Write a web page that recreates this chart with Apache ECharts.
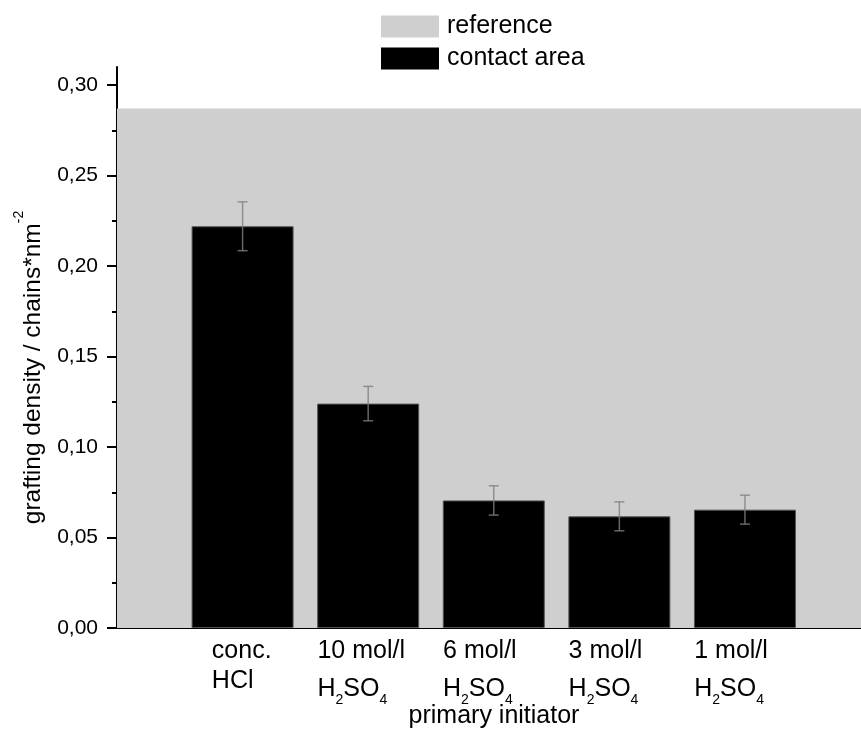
<!DOCTYPE html>
<html>
<head>
<meta charset="utf-8">
<script src="https://cdn.jsdelivr.net/npm/echarts@6/dist/echarts.min.js"></script>
<style>
  html, body { margin: 0; padding: 0; background: #fff; }
  #chart { width: 861px; height: 738px; }
</style>
</head>
<body>
<div id="chart"></div>
<script>
// ---- data ----
const labelLine1 = ['conc.', '10 mol/l', '6 mol/l', '3 mol/l', '1 mol/l'];
const labelLine2 = ['HCl', 'H2SO4', 'H2SO4', 'H2SO4', 'H2SO4'];
const positions = [1, 2, 3, 4, 5];
const contactArea = [0.222, 0.124, 0.0705, 0.0617, 0.0654];
const contactErr = [0.0135, 0.0095, 0.0081, 0.0080, 0.0080];
const referenceValue = 0.287;
const yMajorTicks = [0, 0.05, 0.10, 0.15, 0.20, 0.25, 0.30];
const yMinorTicks = [0.025, 0.075, 0.125, 0.175, 0.225, 0.275];

const FONT = 'Liberation Sans';
// labels start near the left edge of each bar (offset in axis units)
const LABEL_SHIFT = [0.245, 0.404, 0.404, 0.404, 0.404];
const labelAnchors = positions.map((p, i) => p - LABEL_SHIFT[i]);

function wrapFormula(s) {
  // digits in a chemical formula become subscript tokens
  if (!/\d/.test(s)) return '{m|' + s + '}';
  const parts = s.split(/(\d+)/);
  return parts.filter(p => p.length).map(p => /^\d+$/.test(p) ? '{sub|' + p + '}' : '{f|' + p + '}').join('');
}

const barData = positions.map((x, i) => [x, contactArea[i]]);
const errData = positions.map((x, i) => [x, contactArea[i], contactErr[i]]);

const chart = echarts.init(document.getElementById('chart'));
chart.setOption({
  animation: false,
  backgroundColor: '#ffffff',
  textStyle: { fontFamily: FONT },
  legend: {
    data: [
      { name: 'reference', itemStyle: { borderWidth: 0 } },
      { name: 'contact area', itemStyle: { borderWidth: 0, color: '#000' } }
    ],
    orient: 'vertical',
    left: 381,
    top: 14,
    padding: 0,
    itemWidth: 58,
    itemHeight: 22,
    itemGap: 7,
    icon: 'rect',
    selectedMode: false,
    textStyle: { fontFamily: FONT, fontSize: 25, color: '#000', padding: [3, 0, 0, 3] }
  },
  grid: { left: 117, right: 0, top: 67, bottom: 110, containLabel: false, outerBoundsMode: 'none' },
  xAxis: {
    type: 'value',
    min: 0,
    max: 5.924,
    interval: 1,
    splitLine: { show: false },
    axisTick: { show: false },
    axisLine: { onZero: false, lineStyle: { color: '#000', width: 2 } },
    name: 'primary initiator',
    nameLocation: 'middle',
    nameGap: 76,
    nameMoveOverlap: false,
    nameTextStyle: { fontFamily: FONT, fontSize: 25, color: '#000', verticalAlign: 'top', padding: [0, 0, 0, 10] },
    axisLabel: {
      customValues: labelAnchors,
      margin: 8,
      align: 'left',
      formatter: function (v) {
        let i = -1;
        labelAnchors.forEach((a, k) => { if (Math.abs(a - v) < 1e-6) i = k; });
        if (i < 0) return '';
        return '{m|' + labelLine1[i] + '}\n' + wrapFormula(labelLine2[i]);
      },
      rich: {
        m: { fontFamily: FONT, fontSize: 25, color: '#000', lineHeight: 30, align: 'left', verticalAlign: 'middle' },
        f: { fontFamily: FONT, fontSize: 25, color: '#000', lineHeight: 47, align: 'left', verticalAlign: 'middle' },
        sub: { fontFamily: FONT, fontSize: 14, color: '#000', lineHeight: 14, align: 'left',
               verticalAlign: 'top', padding: [27, 0, 4, 0] }
      }
    }
  },
  yAxis: [{
    type: 'value',
    min: 0,
    max: 0.31,
    interval: 0.05,
    position: 'left',
    splitLine: { show: false },
    axisLine: { show: true, lineStyle: { color: '#000', width: 2 } },
    axisTick: { show: true, customValues: yMajorTicks, length: 10, lineStyle: { color: '#000', width: 2 } },
    axisLabel: {
      customValues: yMajorTicks,
      margin: 19,
      fontFamily: FONT, fontSize: 21, color: '#000',
      formatter: v => v.toFixed(2).replace('.', ',')
    },
    name: '{m|grafting density / chains*nm}{sup|-2}',
    nameLocation: 'middle',
    nameGap: 71,
    nameMoveOverlap: false,
    nameTextStyle: {
      padding: [0, 40, 0, 0],
      rich: {
        m: { fontFamily: FONT, fontSize: 24.5, color: '#000', lineHeight: 34, verticalAlign: 'bottom' },
        sup: { fontFamily: FONT, fontSize: 14, color: '#000', lineHeight: 14, verticalAlign: 'top' }
      }
    }
  }, {
    type: 'value',
    min: 0,
    max: 0.31,
    interval: 0.05,
    position: 'left',
    splitLine: { show: false },
    axisLine: { show: false },
    axisTick: { show: true, customValues: yMinorTicks, length: 5, lineStyle: { color: '#000', width: 2 } },
    axisLabel: { show: false }
  }],
  series: [
    {
      name: 'reference',
      type: 'bar',
      data: [],
      itemStyle: { color: '#cfcfcf' },
      markArea: {
        silent: true,
        itemStyle: { color: '#cfcfcf' },
        data: [[{ xAxis: 0, yAxis: 0 }, { xAxis: 5.924, yAxis: referenceValue }]]
      }
    },
    {
      name: 'contact area',
      type: 'bar',
      data: barData,
      barWidth: 102,
      barGap: '-100%',
      itemStyle: { color: '#000', borderColor: '#555', borderWidth: 1 },
      z: 3
    },
    {
      name: 'error',
      type: 'custom',
      data: errData,
      z: 4,
      renderItem: function (params, api) {
        const x = api.value(0), y = api.value(1), e = api.value(2);
        const top = api.coord([x, y + e]);
        const bot = api.coord([x, y - e]);
        const hw = 5;
        const style = { stroke: 'rgba(128,128,128,0.8)', lineWidth: 1.5 };
        return {
          type: 'group',
          children: [
            { type: 'line', shape: { x1: top[0], y1: top[1], x2: bot[0], y2: bot[1] }, style: style },
            { type: 'line', shape: { x1: top[0] - hw, y1: top[1], x2: top[0] + hw, y2: top[1] }, style: style },
            { type: 'line', shape: { x1: bot[0] - hw, y1: bot[1], x2: bot[0] + hw, y2: bot[1] }, style: style }
          ]
        };
      }
    }
  ]
});
</script>
</body>
</html>
